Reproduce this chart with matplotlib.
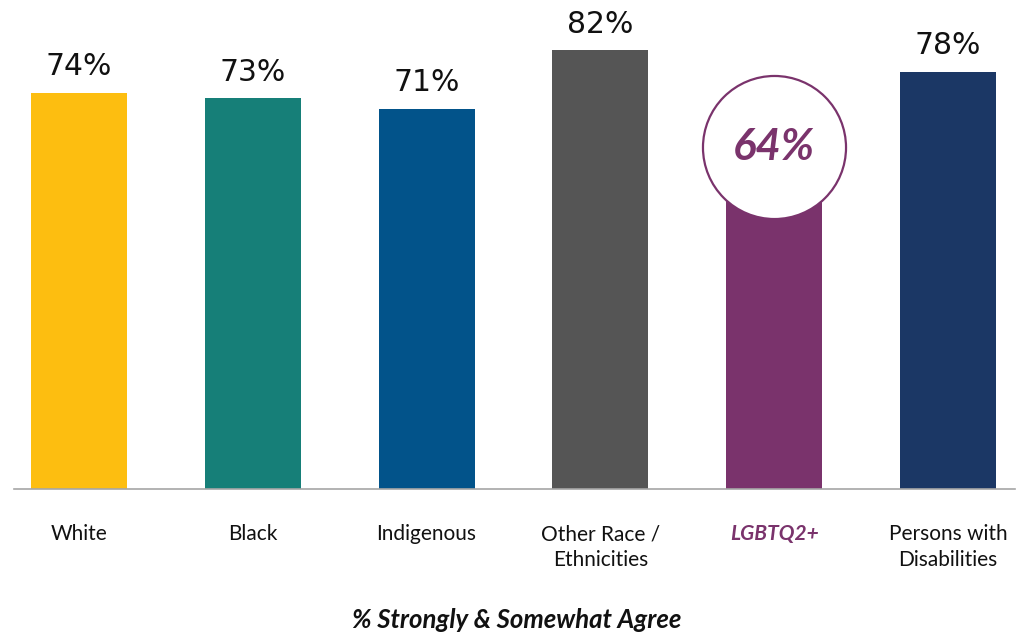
import matplotlib.pyplot as plt

# --- Data ---
categories = ["White", "Black", "Indigenous", "Other Race /\nEthnicities", "LGBTQ2+", "Persons with\nDisabilities"]
values = [74, 73, 71, 82, 64, 78]
colors = ["#FDBE10", "#167F78", "#02538A", "#555555", "#7A336C", "#1B3765"]
highlight = "LGBTQ2+"
purple = "#7A336C"

fig = plt.figure(figsize=(10.30, 6.36), dpi=100)
ax = fig.add_axes([0, 147 / 636, 1, 489 / 636])

x = list(range(len(categories)))
ax.bar(x, values, width=0.552, color=colors, zorder=2)

ax.set_xlim(-0.4545, 5.472)
ax.set_ylim(0, 91.4)
ax.axis("off")

# baseline
ax.plot([-0.374, 5.386], [0, 0], color="#A6A6A6", linewidth=1.2, clip_on=False, zorder=3)

for xi, cat, val in zip(x, categories, values):
    if cat == highlight:
        # circled callout on the highlighted bar
        ax.plot(xi, val, marker="o", markersize=103, markerfacecolor="white",
                markeredgecolor=purple, markeredgewidth=1.6, zorder=4)
        ax.text(xi, val, f"{val}%", ha="center", va="center", fontsize=31.5,
                fontweight="bold", fontstyle="italic", family="Lato", color=purple, zorder=5)
        ax.text(xi, -6.6, cat, ha="center", va="top", fontsize=15,
                fontweight="bold", fontstyle="italic", family="Lato", color=purple,
                linespacing=1.35, clip_on=False)
    else:
        ax.text(xi, val + 3.3, f"{val}%", ha="center", va="baseline", fontsize=21.5,
                family="DejaVu Sans", color="#111111")
        ax.text(xi, -6.6, cat, ha="center", va="top", fontsize=15,
                family="Lato", color="#111111", linespacing=1.35, clip_on=False)

fig.text(517 / 1030, 1 - 620 / 636, "% Strongly & Somewhat Agree", ha="center", va="center",
         fontsize=18.5, fontweight="bold", fontstyle="italic", family="Lato", color="#111111")

fig.savefig("out.png", dpi=100)
